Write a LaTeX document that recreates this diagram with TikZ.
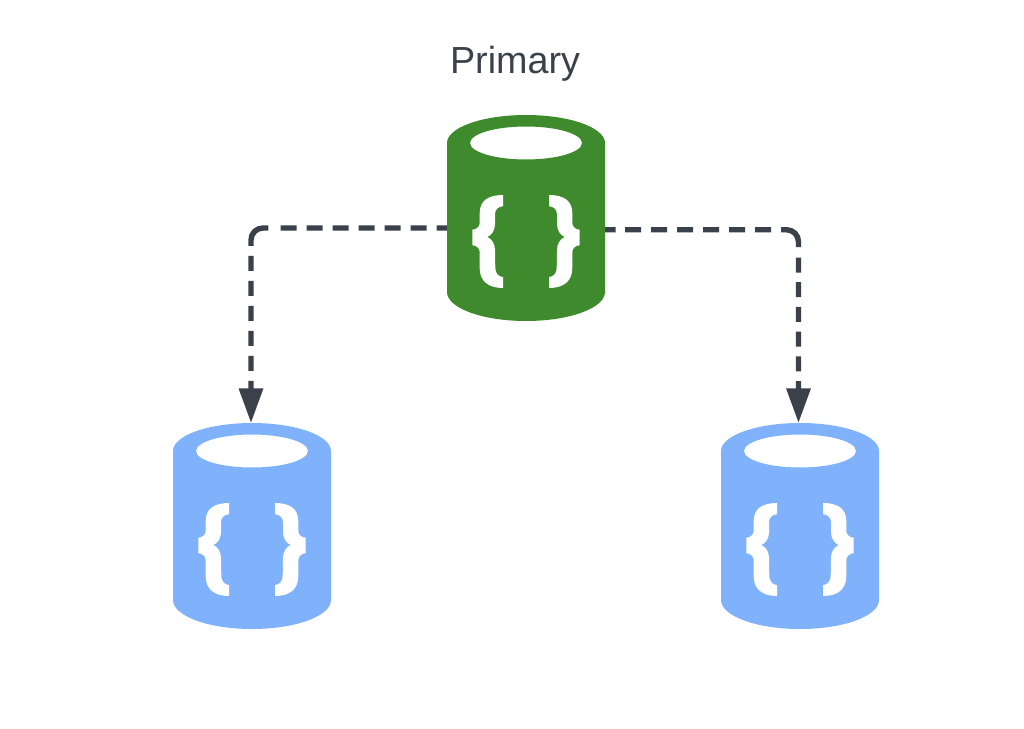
\documentclass[tikz,border=0pt]{standalone}
\usepackage{fontspec}
\setmainfont{Liberation Sans}
\usetikzlibrary{arrows.meta,calc}
\definecolor{ink}{HTML}{3A414A}
\definecolor{dbgreen}{HTML}{3E8A2C}
\definecolor{dbblue}{HTML}{7FB2FA}
\tikzset{
  dbnode/.style={minimum width=118.5pt,minimum height=154.5pt,inner sep=0pt,outer sep=0pt},
  link/.style={draw=ink,line width=4.1pt,rounded corners=9pt,
    -{Triangle[length=26pt,width=17.5pt]}},
  dbicon/.pic={
    \fill[pic actions,even odd rule]
      (-79,-75) arc[start angle=180,end angle=360,x radius=79,y radius=28]
      -- (79,74) arc[start angle=0,end angle=180,x radius=79,y radius=29] -- cycle
      (56,-75) arc[start angle=0,end angle=360,x radius=56,y radius=16.5];
    \foreach \s in {1,-1}{
      \begin{scope}[xscale=\s]
      \fill[white] (-23,-23) .. controls (-38,-23) and (-46.3,-17) .. (-46.3,-5)
        -- (-46.3,5) .. controls (-46.3,9) and (-50,11.7) .. (-53.7,11.7)
        -- (-53.7,27.3) .. controls (-50,27.3) and (-46.3,30) .. (-46.3,34)
        -- (-46.3,50) .. controls (-46.3,63) and (-38,70) .. (-23,70)
        -- (-23,59) .. controls (-27,59) and (-30.7,55.5) .. (-30.7,50)
        -- (-31,32) .. controls (-31,26) and (-34,21) .. (-38.7,19)
        .. controls (-34,17) and (-31,12) .. (-31,6)
        -- (-31,-4) .. controls (-31,-9) and (-27,-11.7) .. (-23,-11.7) -- cycle;
      \end{scope}
    }
  }
}
\begin{document}
\begin{tikzpicture}[x=0.75pt,y=-0.75pt]
\useasboundingbox (0,0) rectangle (1024,728);
\node[dbnode] (primary) at (526,218) {};
\node[dbnode] (left) at (252,526) {};
\node[dbnode] (right) at (800,526) {};
\node[text=ink,font=\fontsize{28.3pt}{34pt}\selectfont,inner sep=0pt] (label) at (515,64) {Primary};
\draw[link,dash pattern=on 7.75pt off 7.5pt on 12pt off 7.5pt on 12pt off 7.5pt on 12pt off 7.5pt on 12pt off 7.5pt on 12pt off 7.5pt on 12pt off 9.3pt on 22.4pt off 7.5pt on 11.25pt off 7.5pt on 11.25pt off 7.5pt on 11.25pt off 7.5pt on 11.25pt off 7.5pt on 11.25pt off 7.5pt on 60pt off 1pt]
  ($(primary.west)+(0,-7.5pt)$) -| ($(left.north)+(-1,0)$);
\draw[link,dash pattern=on 7.9pt off 7.1pt on 12pt off 7.5pt on 12pt off 7.5pt on 12pt off 7.5pt on 12pt off 7.5pt on 12pt off 7.5pt on 12pt off 7.5pt on 22.2pt off 7.8pt on 11.25pt off 7.3pt on 11.25pt off 7.3pt on 11.25pt off 7.3pt on 11.25pt off 7.3pt on 11.25pt off 7.3pt on 60pt off 1pt]
  ($(primary.east)+(0,-8.8pt)$) -| ($(right.north)+(-1.5,0)$);
\pic[fill=dbgreen] at (526,218) {dbicon};
\pic[fill=dbblue] at (252,526) {dbicon};
\pic[fill=dbblue] at (800,526) {dbicon};
\end{tikzpicture}
\end{document}
